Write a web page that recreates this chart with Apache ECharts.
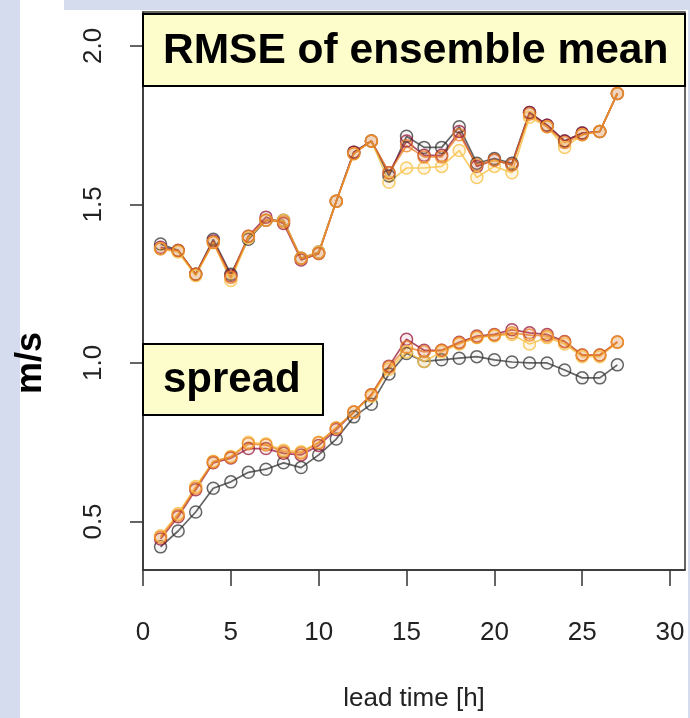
<!DOCTYPE html>
<html>
<head>
<meta charset="utf-8">
<script src="https://cdn.jsdelivr.net/npm/echarts@6/dist/echarts.min.js"></script>
<style>
  html, body { margin: 0; padding: 0; background: #d5dcee; }
  #bg { position: absolute; left: 20px; top: 10px; width: 668px; height: 708px; background: #ffffff; }
  #bg2 { position: absolute; left: 20px; top: 0px; width: 44px; height: 10px; background: #ffffff; }
  #chart { position: absolute; left: 0; top: 0; width: 690px; height: 718px; }
</style>
</head>
<body>
<div id="bg"></div>
<div id="bg2"></div>
<div id="chart"></div>
<script>
// ---- data ----
const leadTimes = [1,2,3,4,5,6,7,8,9,10,11,12,13,14,15,16,17,18,19,20,21,22,23,24,25,26,27];
const xTicks = [0,5,10,15,20,25,30];
const yTicks = [0.5,1.0,1.5,2.0];

const rmseGray   = [1.375,1.355,1.28,1.39,1.28,1.39,1.45,1.45,1.33,1.35,1.51,1.665,1.70,1.59,1.715,1.68,1.68,1.745,1.63,1.645,1.63,1.79,1.75,1.70,1.725,1.73,1.85];
const rmseRed    = [1.365,1.355,1.28,1.385,1.275,1.40,1.46,1.44,1.325,1.345,1.51,1.665,1.70,1.60,1.70,1.655,1.655,1.73,1.62,1.64,1.625,1.79,1.75,1.70,1.725,1.73,1.85];
const rmseOrange = [1.36,1.355,1.28,1.38,1.27,1.40,1.45,1.445,1.33,1.345,1.51,1.66,1.70,1.60,1.685,1.65,1.65,1.72,1.625,1.64,1.625,1.785,1.745,1.695,1.72,1.73,1.85];
const rmseYellow = [1.36,1.35,1.275,1.38,1.26,1.395,1.45,1.45,1.33,1.35,1.51,1.66,1.70,1.57,1.615,1.615,1.62,1.67,1.585,1.62,1.60,1.775,1.745,1.68,1.72,1.73,1.85];

const spreadGray   = [0.42,0.47,0.53,0.605,0.625,0.655,0.665,0.685,0.67,0.71,0.76,0.83,0.87,0.965,1.03,1.005,1.01,1.015,1.02,1.01,1.003,1.0,1.0,0.978,0.953,0.953,0.994];
const spreadRed    = [0.445,0.515,0.60,0.685,0.70,0.73,0.73,0.715,0.71,0.74,0.79,0.845,0.90,0.99,1.075,1.04,1.04,1.065,1.085,1.09,1.105,1.095,1.09,1.068,1.025,1.025,1.066];
const spreadOrange = [0.45,0.52,0.605,0.688,0.703,0.745,0.741,0.72,0.716,0.748,0.795,0.845,0.90,0.987,1.05,1.035,1.04,1.063,1.082,1.088,1.095,1.088,1.085,1.066,1.025,1.025,1.066];
const spreadYellow = [0.455,0.525,0.61,0.69,0.705,0.75,0.745,0.725,0.72,0.75,0.795,0.845,0.895,0.98,1.035,1.005,1.035,1.06,1.08,1.085,1.09,1.06,1.08,1.06,1.02,1.02,1.065];

// ---- styles ----
const members = [
  { name: 'gray',   color: 'rgba(50,50,50,0.75)',   fill: 'rgba(50,50,50,0.04)',   rmse: rmseGray,   spread: spreadGray },
  { name: 'red',    color: 'rgba(150,20,55,0.75)',  fill: 'rgba(150,20,55,0.08)',  rmse: rmseRed,    spread: spreadRed },
  { name: 'yellow', color: 'rgba(248,196,80,0.85)', fill: 'rgba(248,196,80,0.15)', rmse: rmseYellow, spread: spreadYellow },
  { name: 'orange', color: 'rgba(235,125,30,0.75)', fill: 'rgba(235,125,30,0.12)', rmse: rmseOrange, spread: spreadOrange }
];

function mkSeries(name, vals, m) {
  return {
    name: name,
    type: 'line',
    data: leadTimes.map((t, i) => [t, vals[i]]),
    symbol: 'circle',
    symbolSize: 12,
    showSymbol: true,
    lineStyle: { color: m.color, width: 1.7 },
    itemStyle: { color: m.fill, borderColor: m.color, borderWidth: 1.5 },
    emphasis: { disabled: true },
    animation: false
  };
}

const series = [];
members.forEach(m => {
  series.push(mkSeries('RMSE ' + m.name, m.rmse, m));
  series.push(mkSeries('spread ' + m.name, m.spread, m));
});

const font = 'Liberation Sans, Arial, sans-serif';

const option = {
  animation: false,
  backgroundColor: 'transparent',
  grid: {
    left: 143, right: 5, top: 12, bottom: 148,
    show: true, borderColor: '#333', borderWidth: 1.5, backgroundColor: 'transparent'
  },
  xAxis: {
    type: 'value',
    min: 0, max: 30.85,
    interval: 5,
    name: 'lead time [h]',
    nameLocation: 'middle',
    nameGap: 116,
    nameTextStyle: { fontFamily: font, fontSize: 26, color: '#222' },
    axisLine: { show: true, onZero: false, lineStyle: { color: '#333', width: 1.5 } },
    axisTick: { show: true, length: 16, customValues: xTicks, lineStyle: { color: '#333', width: 1.5 } },
    axisLabel: { customValues: xTicks, margin: 50, fontFamily: font, fontSize: 26, color: '#222' },
    splitLine: { show: false }
  },
  yAxis: {
    type: 'value',
    min: 0.347, max: 2.107,
    axisLine: { show: true, onZero: false, lineStyle: { color: '#333', width: 1.5 } },
    axisTick: { show: true, length: 13, customValues: yTicks, lineStyle: { color: '#333', width: 1.5 } },
    axisLabel: {
      customValues: yTicks, rotate: 90, margin: 36,
      fontFamily: font, fontSize: 26, color: '#222',
      formatter: v => Number(v).toFixed(1)
    },
    splitLine: { show: false }
  },
  graphic: [
    {
      type: 'rect', z: 100,
      shape: { x: 143, y: 14, width: 542, height: 72 },
      style: { fill: '#fdfdcb', stroke: '#000', lineWidth: 2 }
    },
    {
      type: 'text', z: 101, x: 163, y: 51,
      style: { text: 'RMSE of ensemble mean', font: 'bold 42.5px ' + font, fill: '#000', verticalAlign: 'middle', align: 'left' }
    },
    {
      type: 'rect', z: 100,
      shape: { x: 143, y: 344, width: 180, height: 71 },
      style: { fill: '#fdfdcb', stroke: '#000', lineWidth: 2 }
    },
    {
      type: 'text', z: 101, x: 163, y: 380,
      style: { text: 'spread', font: 'bold 42px ' + font, fill: '#000', verticalAlign: 'middle', align: 'left' }
    },
    {
      type: 'text', z: 101, x: 31, y: 363, rotation: Math.PI / 2,
      style: { text: 'm/s', font: 'bold 36px ' + font, fill: '#000', verticalAlign: 'middle', align: 'center' }
    }
  ],
  series: series
};

const chart = echarts.init(document.getElementById('chart'), null, { renderer: 'canvas' });
chart.setOption(option);
</script>
</body>
</html>
